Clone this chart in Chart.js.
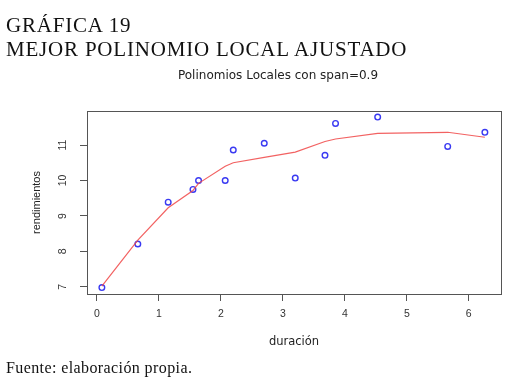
<!DOCTYPE html>
<html>
<head>
<meta charset="utf-8">
<script src="https://cdn.jsdelivr.net/npm/chart.js@4/dist/chart.umd.min.js"></script>
<style>
  body { margin: 0; background: #fff; }
  #wrap { position: relative; width: 510px; height: 386px; overflow: hidden; background: #fff; }
  #grafico { position: absolute; left: 0; top: 0; }
  .serif { position: absolute; left: 6px; font-family: "Liberation Serif", serif; color: #111; white-space: nowrap; }
  .cab { font-size: 21px; line-height: 21px; letter-spacing: 0.8px; }
  #fuente { font-size: 16px; line-height: 16px; letter-spacing: 0.4px; top: 360px; }
  #subtitulo { position: absolute; left: 0; width: 556px; top: 68px; text-align: center;
    font-family: "DejaVu Sans", sans-serif; font-size: 12px; line-height: 14px; color: #222; }
</style>
</head>
<body>
<div id="wrap">
  <canvas id="grafico" width="510" height="386"></canvas>
  <div class="serif cab" style="top:15px">GRÁFICA 19</div>
  <div class="serif cab" style="top:39px">MEJOR POLINOMIO LOCAL AJUSTADO</div>
  <div id="subtitulo">Polinomios Locales con span=0.9</div>
  <div class="serif" id="fuente">Fuente: elaboración propia.</div>
</div>
<script>
const duracion = [0.08, 0.66, 1.15, 1.55, 1.64, 2.07, 2.20, 2.70, 3.20, 3.68, 3.85, 4.53, 5.66, 6.26];
const rendimientos = [6.98, 8.21, 9.39, 9.75, 10.00, 10.00, 10.86, 11.05, 10.07, 10.71, 11.61, 11.79, 10.96, 11.36];
// Valores ajustados del polinomio local (span = 0.9)
const ajustado = [7.02, 8.32, 9.23, 9.72, 9.92, 10.40, 10.50, 10.65, 10.80, 11.10, 11.17, 11.33, 11.36, 11.22];
const ticksX = [0, 1, 2, 3, 4, 5, 6];
const ticksY = [7, 8, 9, 10, 11];

// Caja alrededor del área de trazado, como en R
const cajaPlugin = {
    id: 'caja',
    afterDraw(chart) {
        const a = chart.chartArea;
        const ctx = chart.ctx;
        ctx.save();
        ctx.strokeStyle = '#555';
        ctx.lineWidth = 1;
        ctx.strokeRect(Math.round(a.left) + 0.5, Math.round(a.top) + 0.5,
            Math.round(a.right - a.left), Math.round(a.bottom - a.top));
        ctx.restore();
    }
};

const ejeComun = {
    border: { display: false },
    grid: { drawOnChartArea: false, drawTicks: true, tickLength: 7, color: '#555', lineWidth: 1 }
};

new Chart(document.getElementById('grafico'), {
    type: 'scatter',
    data: {
        datasets: [{
            type: 'line',
            data: duracion.map((x, i) => ({ x, y: ajustado[i] })),
            borderColor: 'rgba(240, 70, 70, 0.85)',
            borderWidth: 1.2,
            pointRadius: 0,
            tension: 0,
            fill: false
        }, {
            data: duracion.map((x, i) => ({ x, y: rendimientos[i] })),
            pointStyle: 'circle',
            pointRadius: 2.8,
            borderColor: '#3a3af2',
            backgroundColor: 'rgba(0,0,0,0)',
            borderWidth: 1.4
        }]
    },
    options: {
        responsive: false,
        animation: false,
        layout: { padding: { left: 0, top: 111, right: 9, bottom: 37 } },
        plugins: { legend: { display: false }, tooltip: { enabled: false } },
        scales: {
            x: {
                ...ejeComun,
                type: 'linear',
                min: -0.16,
                max: 6.52,
                afterBuildTicks: s => { s.ticks = ticksX.map(v => ({ value: v })); },
                afterFit: s => { s.height = 55; },
                ticks: { padding: 7, color: '#333', font: { family: 'Liberation Sans', size: 10.5 } },
                title: {
                    display: true,
                    text: 'duración',
                    color: '#222',
                    padding: { top: 0, bottom: 0 },
                    font: { family: 'DejaVu Sans', size: 11.5 }
                }
            },
            y: {
                ...ejeComun,
                type: 'linear',
                min: 6.80,
                max: 11.96,
                afterBuildTicks: s => { s.ticks = ticksY.map(v => ({ value: v })); },
                afterFit: s => { s.width = 87; },
                ticks: {
                    padding: 11.5,
                    minRotation: 90,
                    maxRotation: 90,
                    crossAlign: 'center',
                    color: '#333',
                    font: { family: 'Liberation Sans', size: 10.5 }
                },
                title: {
                    display: true,
                    text: 'rendimientos',
                    color: '#222',
                    padding: { top: 30, bottom: 0 },
                    font: { family: 'Liberation Sans', size: 11 }
                }
            }
        }
    },
    plugins: [cajaPlugin]
});
</script>
</body>
</html>
